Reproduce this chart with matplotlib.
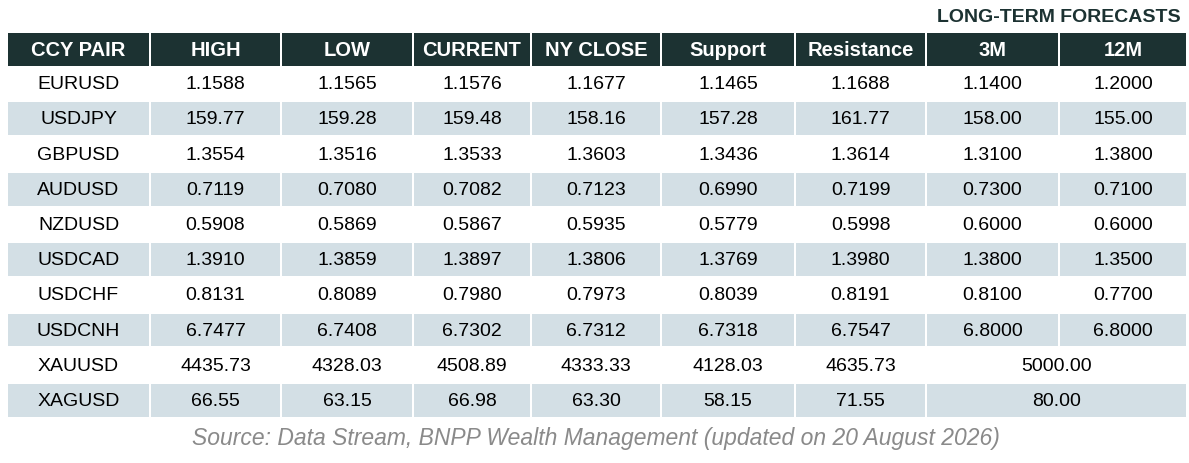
import matplotlib.pyplot as plt
from matplotlib.patches import Rectangle

plt.rcParams['font.family'] = ['Liberation Sans', 'DejaVu Sans']

columns = ['CCY PAIR', 'HIGH', 'LOW', 'CURRENT', 'NY CLOSE', 'Support', 'Resistance', '3M', '12M']
pairs = ['EURUSD', 'USDJPY', 'GBPUSD', 'AUDUSD', 'NZDUSD', 'USDCAD', 'USDCHF', 'USDCNH', 'XAUUSD', 'XAGUSD']
high = ['1.1588', '159.77', '1.3554', '0.7119', '0.5908', '1.3910', '0.8131', '6.7477', '4435.73', '66.55']
low = ['1.1565', '159.28', '1.3516', '0.7080', '0.5869', '1.3859', '0.8089', '6.7408', '4328.03', '63.15']
current = ['1.1576', '159.48', '1.3533', '0.7082', '0.5867', '1.3897', '0.7980', '6.7302', '4508.89', '66.98']
ny_close = ['1.1677', '158.16', '1.3603', '0.7123', '0.5935', '1.3806', '0.7973', '6.7312', '4333.33', '63.30']
support = ['1.1465', '157.28', '1.3436', '0.6990', '0.5779', '1.3769', '0.8039', '6.7318', '4128.03', '58.15']
resistance = ['1.1688', '161.77', '1.3614', '0.7199', '0.5998', '1.3980', '0.8191', '6.7547', '4635.73', '71.55']
f3m = ['1.1400', '158.00', '1.3100', '0.7300', '0.6000', '1.3800', '0.8100', '6.8000', '5000.00', '80.00']
f12m = ['1.2000', '155.00', '1.3800', '0.7100', '0.6000', '1.3500', '0.7700', '6.8000', None, None]

data = [pairs, high, low, current, ny_close, support, resistance, f3m, f12m]

# column edges in pixels
edges = [7, 150, 281, 413, 531, 661, 795, 926, 1059, 1187]
gap = 2.5
header_top, header_bot = 33, 66
row_h = 35.2
dark = '#1c3232'
light = '#d3dfe5'

fig = plt.figure(figsize=(11.89, 4.63), dpi=100)
ax = fig.add_axes([0, 0, 1, 1])
ax.set_xlim(0, 1189)
ax.set_ylim(463, 0)
ax.axis('off')

for j, name in enumerate(columns):
    x0, x1 = edges[j], edges[j + 1]
    ax.add_patch(Rectangle((x0 + gap / 2, header_top), x1 - x0 - gap, header_bot - header_top, color=dark, lw=0))
    ax.text((x0 + x1) / 2, (header_top + header_bot) / 2 + 1, name, color='white', fontsize=14.5,
            fontweight='bold', ha='center', va='center')

for i in range(len(pairs)):
    y0 = header_bot + i * row_h
    yc = y0 + row_h / 2 + 1
    for j, col in enumerate(data):
        val = col[i]
        if val is None:
            continue
        x0, x1 = edges[j], edges[j + 1]
        if j == 7 and f12m[i] is None:
            x1 = edges[9]
        if i % 2 == 1:
            ax.add_patch(Rectangle((x0 + gap / 2, y0 + gap / 2), x1 - x0 - gap, row_h - gap, color=light, lw=0))
        ax.text((x0 + x1) / 2, yc, val, color='black', fontsize=14, ha='center', va='center')

ax.text(1181, 17, 'LONG-TERM FORECASTS', color=dark, fontsize=14, fontweight='bold', ha='right', va='center')
ax.text(596, 439, 'Source: Data Stream, BNPP Wealth Management (updated on 20 August 2026)',
        color='#8a8a8a', fontsize=16.5, style='italic', ha='center', va='center')

plt.savefig('out.png', dpi=100)
